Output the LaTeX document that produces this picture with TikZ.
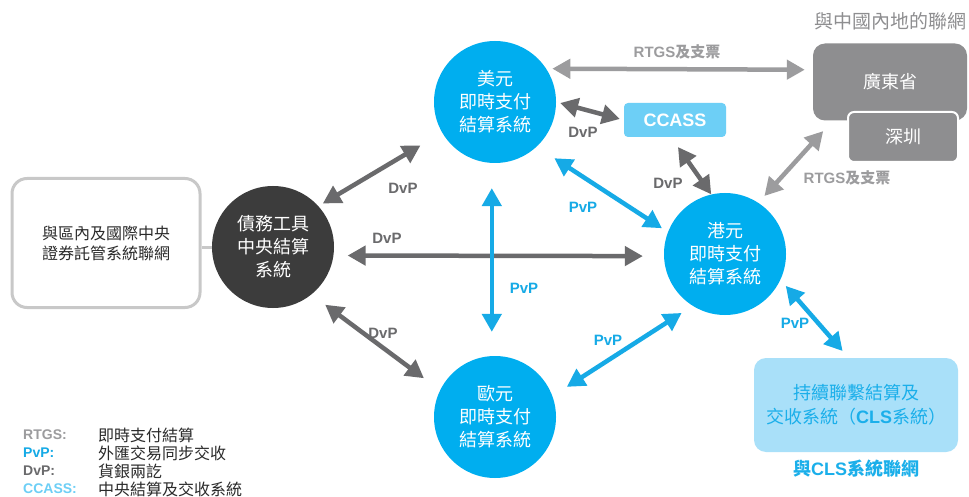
\documentclass[tikz,border=0pt]{standalone}
\usepackage{fontspec}
\setmainfont{Noto Sans CJK TC}
\newfontfamily\lat{Liberation Sans}
\newcommand{\eng}[1]{{\lat #1}}
\usetikzlibrary{arrows.meta,positioning}
\definecolor{bankblue}{HTML}{00AEEF}
\definecolor{pvpblue}{HTML}{16AAE6}
\definecolor{debtgray}{HTML}{3C3C3C}
\definecolor{dvpgray}{HTML}{6A6A6C}
\definecolor{rtgsgray}{HTML}{9C9C9E}
\definecolor{boxgray}{HTML}{8E8E90}
\definecolor{ccassblue}{HTML}{6DCFF6}
\definecolor{clsfill}{HTML}{A9E0F9}
\definecolor{clstext}{HTML}{1BAFEA}
\definecolor{edgegray}{HTML}{C8C8C8}
\definecolor{inkgray}{HTML}{2A2A2A}
\begin{document}
\begin{tikzpicture}[x=1pt, y=-1pt,
    bank/.style={circle, fill=bankblue, minimum size=122pt, inner sep=0pt,
      text=white, align=center, font=\fontsize{18}{23}\selectfont},
    arr/.style={line width=4.5pt,
      {Triangle[length=18pt,width=19pt]}-{Triangle[length=18pt,width=19pt]}},
    dvp/.style={arr, dvpgray}, pvp/.style={arr, pvpblue}, rtgs/.style={arr, rtgsgray},
    lbl/.style={font=\bfseries\fontsize{15}{18}\selectfont, inner sep=1pt},
    key/.style={anchor=west, inner sep=0pt, font=\lat\bfseries\fontsize{14}{17}\selectfont},
    keytext/.style={anchor=west, inner sep=0pt, text=inkgray, font=\fontsize{16}{17}\selectfont}]
  \path[use as bounding box, fill=white] (0,0) rectangle (969,497);

  \node[bank] (usd) at (495,102) {美元\\即時支付\\結算系統};
  \node[bank] (eur) at (495,417) {歐元\\即時支付\\結算系統};
  \node[bank] (hkd) at (725,254) {港元\\即時支付\\結算系統};
  \node[bank, fill=debtgray] (debt) at (273,247) {債務工具\\中央結算\\系統};
  \node[draw=edgegray, line width=3pt, rounded corners=15pt, minimum width=188pt,
    minimum height=129pt, align=center, text=inkgray,
    font=\fontsize{16}{20}\selectfont] (intl) at (106,243)
    {與區內及國際中央\\證券託管系統聯網};
  \node[fill=ccassblue, rounded corners=4pt, minimum width=102pt, minimum height=34pt,
    text=white, font=\lat\bfseries\fontsize{18}{20}\selectfont] (ccass) at (675,120) {CCASS};
  \node[fill=boxgray, rounded corners=12pt, minimum width=154pt, minimum height=77pt,
    text=white, font=\fontsize{18}{20}\selectfont] (gd) at (890,82) {廣東省};
  \node[fill=boxgray, draw=white, line width=2pt, rounded corners=6pt, minimum width=110pt,
    minimum height=50pt, text=white, font=\fontsize{18}{20}\selectfont] (sz) at (903,137) {深圳};
  \node[text=boxgray, font=\fontsize{19}{22}\selectfont, above=10pt of gd] (cn) {與中國內地的聯網};
  \node[fill=clsfill, rounded corners=12pt, minimum width=204pt, minimum height=94pt,
    align=center, text=clstext, font=\fontsize{18}{24}\selectfont] (cls) at (856,405)
    {持續聯繫結算及\\交收系統（\eng{\bfseries CLS}系統）};
  \node[text=clstext, font=\bfseries\fontsize{18}{20}\selectfont, below=4pt of cls] (clsnet)
    {與\eng{CLS}系統聯網};

  \draw[edgegray, line width=3pt] (debt.west) -- (debt.west -| intl.east);
  \draw[dvp, shorten <=5pt, shorten >=25pt] (debt.42) -- (usd.210);
  \draw[dvp, shorten <=14pt, shorten >=21pt] (debt.-8) -- (hkd.182);
  \draw[dvp, shorten <=17pt, shorten >=20pt] (debt.-51) -- (eur.154);
  \draw[pvp, shorten <=25pt, shorten >=24pt] (usd.267) -- (eur.93);
  \draw[pvp, shorten <=21pt, shorten >=7pt] (usd.-47) -- (hkd.159);
  \draw[pvp, shorten <=17pt, shorten >=13pt] (eur.20) -- (hkd.238);
  \draw[pvp, shorten <=8pt, shorten >=9pt] (hkd.-25) -- (cls.99);
  \draw[dvp, shorten <=4pt, shorten >=4pt] (usd.east) -- (ccass.west);
  \draw[dvp, shorten <=12pt] (ccass.-103) -- (hkd.103);
  \draw[rtgs, shorten <=9pt, shorten >=14pt] (hkd.57) -- (gd.214);
  \draw[rtgs, shorten <=6pt, shorten >=8pt] (usd.33) -- (gd.171);

  \node[lbl, text=rtgsgray] (rtgs1) at (677,52) {\eng{RTGS}及支票};
  \node[lbl, text=rtgsgray] (rtgs2) at (847,178) {\eng{RTGS}及支票};
  \node[lbl, text=dvpgray] (dvp1) at (583,132) {\eng{DvP}};
  \node[lbl, text=dvpgray] (dvp2) at (668,183) {\eng{DvP}};
  \node[lbl, text=dvpgray] (dvp3) at (403,188) {\eng{DvP}};
  \node[lbl, text=dvpgray] (dvp4) at (387,238) {\eng{DvP}};
  \node[lbl, text=dvpgray] (dvp5) at (383,333) {\eng{DvP}};
  \node[lbl, text=pvpblue] (pvp1) at (583,207) {\eng{PvP}};
  \node[lbl, text=pvpblue] (pvp2) at (524,288) {\eng{PvP}};
  \node[lbl, text=pvpblue] (pvp3) at (608,340) {\eng{PvP}};
  \node[lbl, text=pvpblue] (pvp4) at (795,323) {\eng{PvP}};

  \node[key, text=rtgsgray] (k1) at (23,435) {RTGS:};
  \node[key, text=pvpblue] (k2) at (23,453) {PvP:};
  \node[key, text=dvpgray] (k3) at (23,471) {DvP:};
  \node[key, text=ccassblue] (k4) at (23,489) {CCASS:};
  \node[keytext] (t1) at (98,435) {即時支付結算};
  \node[keytext] (t2) at (98,453) {外匯交易同步交收};
  \node[keytext] (t3) at (98,471) {貨銀兩訖};
  \node[keytext] (t4) at (98,489) {中央結算及交收系統};
\end{tikzpicture}
\end{document}
